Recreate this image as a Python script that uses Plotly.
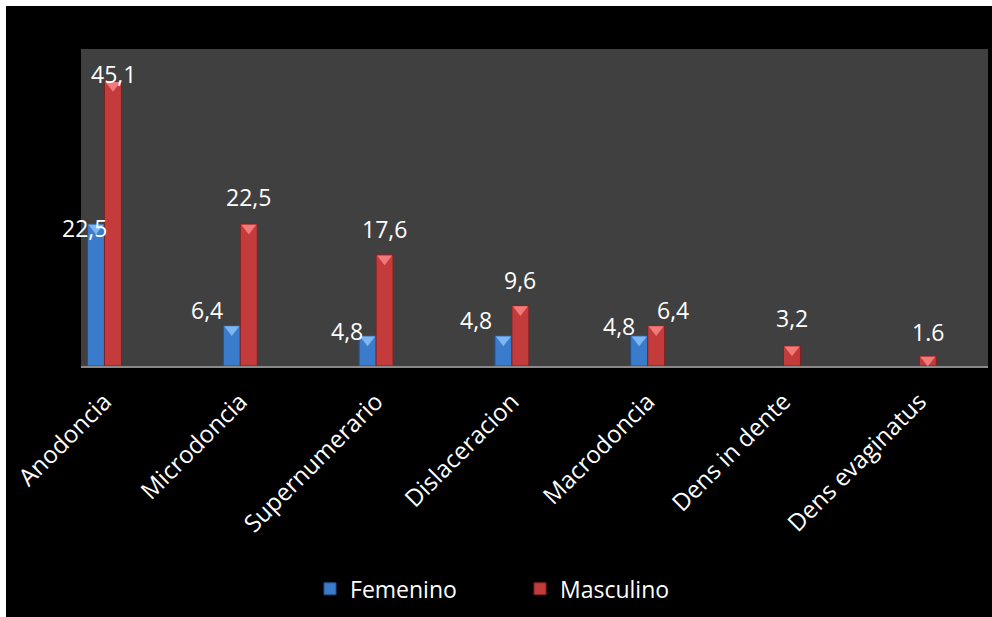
import plotly.graph_objects as go

categories = ["Anodoncia", "Microdoncia", "Supernumerario", "Dislaceracion",
              "Macrodoncia", "Dens in dente", "Dens evaginatus"]
femenino = [22.5, 6.4, 4.8, 4.8, 4.8, None, None]
masculino = [45.1, 22.5, 17.6, 9.6, 6.4, 3.2, 1.6]
fem_labels = ["22,5", "6,4", "4,8", "4,8", "4,8", "", ""]
mas_labels = ["45,1", "22,5", "17,6", "9,6", "6,4", "3,2", "1.6"]

# label placement (pixel offsets from bar top-centre), mimicking the original
fem_dx = [-12, -25, -21, -27, -20, 0, 0]
fem_dy = [-4, 16, 5, 16, 10, 0, 0]
mas_dx = [1, 0, 0, 0, 17, 0, 0]
mas_dy = [7, 27, 26, 25, 16, 28, 24]

FONT = "Open Sans"
BLUE = "#3b7bcb"
RED = "#c33b3b"

fig = go.Figure()
fig.add_trace(go.Bar(name="Femenino", x=categories, y=femenino,
                     marker=dict(color=BLUE, line=dict(color="#24528c", width=1))))
fig.add_trace(go.Bar(name="Masculino", x=categories, y=masculino,
                     marker=dict(color=RED, line=dict(color="#7e2222", width=1))))

# light triangles at bar tops (decoration)
ppu = 317 / 50.2
fig.add_trace(go.Scatter(x=categories, y=[None if v is None else v - 4 / ppu for v in femenino],
                         mode="markers", showlegend=False, hoverinfo="skip",
                         marker=dict(symbol="triangle-down", size=13, color="#7fb6f0",
                                     line=dict(width=0))))
fig.add_trace(go.Scatter(x=categories, y=[v - 4 / ppu for v in masculino],
                         mode="markers", showlegend=False, hoverinfo="skip",
                         marker=dict(symbol="triangle-down", size=13, color="#f07a7a",
                                     line=dict(width=0))))

annotations = []
for i, (v, t, dx, dy) in enumerate(zip(femenino, fem_labels, fem_dx, fem_dy)):
    if v is None or not t:
        continue
    annotations.append(dict(x=i - 0.0625, y=v, text=t, showarrow=False, xref="x", yref="y",
                            xshift=dx, yshift=dy, yanchor="middle", xanchor="center",
                            font=dict(family=FONT, size=23, color="white")))
for i, (v, t, dx, dy) in enumerate(zip(masculino, mas_labels, mas_dx, mas_dy)):
    annotations.append(dict(x=i + 0.0625, y=v, text=t, showarrow=False, xref="x", yref="y",
                            xshift=dx, yshift=dy, yanchor="middle", xanchor="center",
                            font=dict(family=FONT, size=23, color="white")))

# white strips on top and left edges of the black canvas, plus grey plot area
shapes = [
    dict(type="rect", xref="paper", yref="paper", x0=-0.2, x1=1.2, y0=1.1356, y1=1.3,
         fillcolor="white", line=dict(width=0), layer="below"),
    dict(type="rect", xref="paper", yref="paper", x0=-0.2, x1=-0.0827, y0=-1.2, y1=1.3,
         fillcolor="white", line=dict(width=0), layer="below"),
    dict(type="rect", xref="paper", yref="paper", x0=0, x1=1, y0=0, y1=1,
         fillcolor="#404040", line=dict(width=0), layer="below"),
]

fig.update_layout(
    width=992, height=617,
    margin=dict(l=81, r=4, t=49, b=251),
    paper_bgcolor="black",
    plot_bgcolor="rgba(0,0,0,0)",
    barmode="group", bargap=0.75, bargroupgap=0,
    scattermode="group", scattergap=0.75,
    font=dict(family=FONT, color="white", size=23),
    xaxis=dict(type="category", range=[-0.173, 6.506], tickangle=-45,
               showline=True, linecolor="#8a8a8a", linewidth=2,
               showgrid=False, ticks="", ticklabelstandoff=10,
               tickfont=dict(family=FONT, size=24, color="white")),
    yaxis=dict(range=[0, 50.2], showgrid=False, zeroline=False, showticklabels=False,
               showline=False, ticks=""),
    legend=dict(orientation="h", x=0.2525, xanchor="left", y=-0.703, yanchor="middle",
                font=dict(family=FONT, size=23, color="white"),
                bgcolor="rgba(0,0,0,0)", entrywidth=165),
    annotations=annotations,
    shapes=shapes,
)

fig.write_html("out.html")
